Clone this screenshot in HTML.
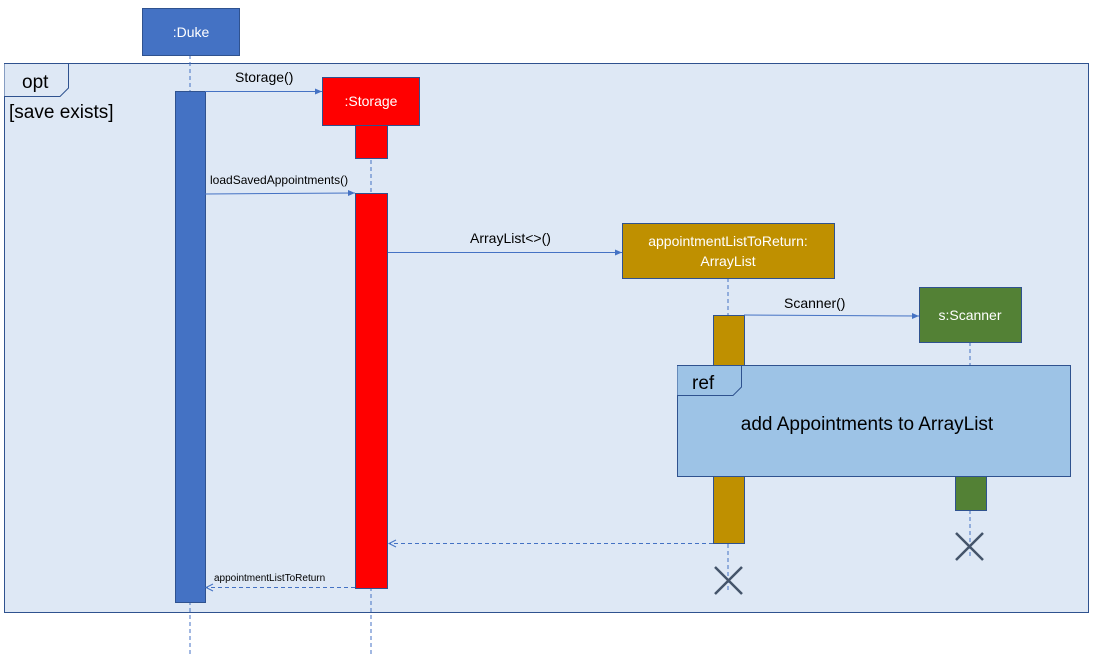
<!DOCTYPE html><html><head><style>body{margin:0;background:#fff}svg{display:block}text{font-family:"Liberation Sans",sans-serif}</style></head><body>
<svg width="1093" height="662" viewBox="0 0 1093 662">
<defs><marker id="a" markerWidth="8" markerHeight="8" refX="7" refY="4" orient="auto"><path d="M0,1 L7,4 L0,7z" fill="#4472C4"/></marker></defs>
<rect x="4.5" y="63.5" width="1084" height="549" fill="#DEE8F5" stroke="#2F528F"/>
<path d="M4.5,63.5 H68.5 V88 L60,96.5 H4.5" fill="#DEE8F5" stroke="#2F528F"/>
<text x="22" y="88" font-size="19">opt</text>
<text x="9" y="118" font-size="19">[save exists]</text>
<g stroke="#4472C4" stroke-dasharray="4,3" stroke-width="1">
<line x1="190" y1="55" x2="190" y2="656"/><line x1="371" y1="125" x2="371" y2="656"/>
<line x1="728" y1="278" x2="728" y2="590"/><line x1="970" y1="342" x2="970" y2="556"/></g>
<rect x="142.5" y="8.5" width="97" height="47" fill="#4472C4" stroke="#2F528F"/>
<text x="191" y="37" font-size="14" fill="#fff" text-anchor="middle">:Duke</text>
<rect x="175.5" y="91.5" width="30" height="511" fill="#4472C4" stroke="#2F528F"/>
<rect x="322.5" y="77.5" width="97" height="48" fill="#f00" stroke="#2F528F"/>
<text x="371" y="106" font-size="14" fill="#fff" text-anchor="middle">:Storage</text>
<rect x="355.5" y="125.5" width="32" height="33" fill="#f00" stroke="#2F528F"/>
<rect x="355.5" y="193.5" width="32" height="395" fill="#f00" stroke="#2F528F"/>
<rect x="622.5" y="223.5" width="212" height="55" fill="#BF9000" stroke="#2F528F"/>
<text x="728" y="246" font-size="14" fill="#fff" text-anchor="middle">appointmentListToReturn:</text>
<text x="728" y="266" font-size="14" fill="#fff" text-anchor="middle">ArrayList</text>
<rect x="713.5" y="315.5" width="31" height="228" fill="#BF9000" stroke="#2F528F"/>
<rect x="919.5" y="287.5" width="102" height="55" fill="#538135" stroke="#2F528F"/>
<text x="970" y="320" font-size="14" fill="#fff" text-anchor="middle">s:Scanner</text>
<rect x="955.5" y="476.5" width="31" height="34" fill="#538135" stroke="#2F528F"/>
<rect x="677.5" y="365.5" width="393" height="111" fill="#9DC3E6" stroke="#2F528F"/>
<path d="M677.5,365.5 H741.5 V387 L733,395.5 H677.5" fill="#9DC3E6" stroke="#2F528F"/>
<text x="692" y="389" font-size="19">ref</text>
<text x="867" y="430" font-size="19" text-anchor="middle">add Appointments to ArrayList</text>
<g stroke="#4472C4" stroke-width="1" fill="none">
<line x1="205" y1="91.5" x2="322" y2="91.5" marker-end="url(#a)"/>
<line x1="205" y1="194" x2="355" y2="193" marker-end="url(#a)"/>
<line x1="388" y1="252.5" x2="622" y2="252.5" marker-end="url(#a)"/>
<line x1="744" y1="315" x2="919" y2="316" marker-end="url(#a)"/>
<line x1="713" y1="543.5" x2="390" y2="543.5" stroke-dasharray="4,3"/>
<line x1="355" y1="587.5" x2="207" y2="587.5" stroke-dasharray="4,3"/>
<path d="M396,540 L389,543.5 L396,547"/>
<path d="M213,584 L206,587.5 L213,591"/>
</g>
<text x="235" y="82" font-size="14">Storage()</text>
<text x="210" y="184" font-size="12">loadSavedAppointments()</text>
<text x="470" y="243" font-size="14">ArrayList&lt;&gt;()</text>
<text x="784" y="308" font-size="14">Scanner()</text>
<text x="214" y="581" font-size="10">appointmentListToReturn</text>
<g stroke="#44546A" stroke-width="2.5"><path d="M715,567 L742,594 M742,567 L715,594"/><path d="M956,533 L983,560 M983,533 L956,560"/></g>
</svg></body></html>
